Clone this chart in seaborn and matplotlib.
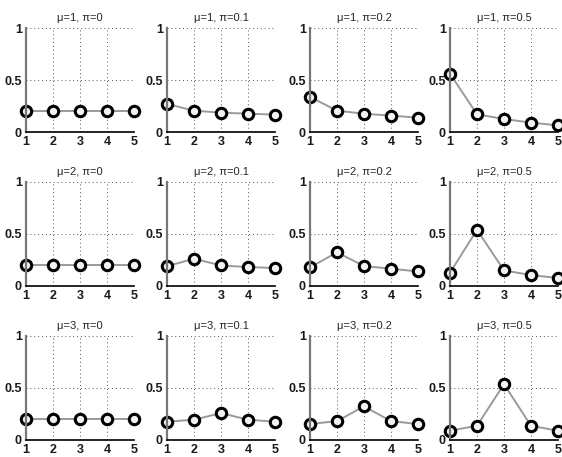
import numpy as np
import pandas as pd
import matplotlib
matplotlib.use("Agg")
import matplotlib.pyplot as plt
import seaborn as sns

sns.set_style("white")
plt.rcParams['font.family'] = ['Liberation Sans', 'DejaVu Sans']

ranks = [1, 2, 3, 4, 5]
mus = [1, 2, 3]
pis = ["0", "0.1", "0.2", "0.5"]

# probabilities, one list per (mu, pi) panel
p_mu1 = [
    [0.20, 0.20, 0.20, 0.20, 0.20],
    [0.27, 0.205, 0.186, 0.176, 0.167],
    [0.337, 0.205, 0.176, 0.157, 0.138],
    [0.561, 0.17, 0.125, 0.09, 0.064],
]
p_mu2 = [
    [0.20, 0.20, 0.20, 0.20, 0.20],
    [0.19, 0.262, 0.198, 0.182, 0.173],
    [0.179, 0.323, 0.192, 0.166, 0.14],
    [0.128, 0.54, 0.15, 0.105, 0.077],
]
p_mu3 = [
    [0.20, 0.20, 0.20, 0.20, 0.20],
    [0.176, 0.195, 0.259, 0.195, 0.176],
    [0.153, 0.182, 0.323, 0.182, 0.153],
    [0.089, 0.137, 0.537, 0.137, 0.089],
]
probs = [p_mu1, p_mu2, p_mu3]

fig = plt.figure(figsize=(5.62, 4.57), dpi=100)
W, H = 562, 457
col_x = [26, 167, 310, 450]
row_top = [28, 182, 336]
aw, ah = 108, 104

for i, mu in enumerate(mus):
    for j, pi in enumerate(pis):
        ax = fig.add_axes([col_x[j] / W, 1 - (row_top[i] + ah) / H, aw / W, ah / H])
        df = pd.DataFrame({"rank": ranks, "p": probs[i][j]})
        sns.lineplot(data=df, x="rank", y="p", ax=ax, color="#9a9a9a", lw=1.4,
                     marker="o", markersize=7.5, markerfacecolor="#f2f2f2",
                     markeredgecolor="black", markeredgewidth=2.2, clip_on=False)
        ax.set_xlim(1, 5)
        ax.set_ylim(0, 1)
        ax.set_xticks(ranks)
        ax.set_yticks([0, 0.5, 1])
        ax.set_yticklabels(["0", "0.5", "1"])
        ax.set_xticks(np.arange(1, 5.01, 0.1), minor=True)
        ax.tick_params(axis="both", which="major", labelsize=9, length=0,
                       labelcolor="#1a1a1a")
        ax.tick_params(axis="x", which="major", pad=3)
        ax.tick_params(axis="y", which="major", pad=3)
        for lab in ax.get_xticklabels() + ax.get_yticklabels():
            lab.set_fontweight("bold")
        ax.tick_params(axis="x", which="minor", direction="in", length=1.5, width=0.5,
                       color="black")
        ax.set_xlabel("")
        ax.set_ylabel("")
        ax.grid(True, linestyle=(0, (1, 3)), color="#555555", lw=0.7)
        ax.set_axisbelow(True)
        for s in ["top", "right"]:
            ax.spines[s].set_visible(False)
        ax.spines["left"].set_color("#777777")
        ax.spines["left"].set_linewidth(1.6)
        ax.spines["bottom"].set_color("black")
        ax.spines["bottom"].set_linewidth(1.2)
        ax.set_title("\u03bc=%d, \u03c0=%s" % (mu, pi), fontsize=8, pad=5)

fig.savefig("out.png", dpi=100)
